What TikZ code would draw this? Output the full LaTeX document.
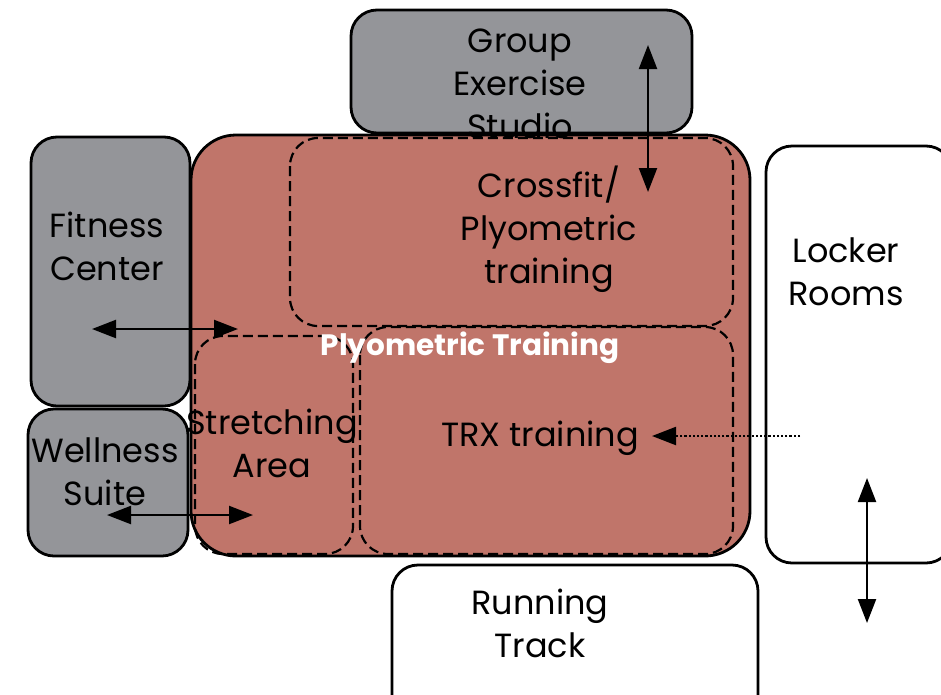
\documentclass[tikz,border=0pt]{standalone}
\usepackage{fontspec}
\setmainfont{Poppins}
\usetikzlibrary{arrows.meta}

\definecolor{roomgrey}{RGB}{148,149,153}
\definecolor{plyored}{RGB}{192,117,106}

\tikzset{
  room/.style={line width=2.8pt, rounded corners=26pt},
  zone/.style={line width=2.2pt, dash pattern=on 10pt off 5pt, rounded corners=28pt},
  roomtext/.style={align=center, inner sep=0pt, font=\fontsize{33.5}{43}\selectfont},
  twoway/.style={line width=2.2pt, {Triangle[length=24pt,width=18pt]}-{Triangle[length=24pt,width=18pt]}},
}

\begin{document}
\begin{tikzpicture}[x=1pt, y=-1pt]
    \useasboundingbox (0,0) rectangle (941,694);
    % Rooms around the training area
    \draw[room, fill=roomgrey] (351,10) rectangle (692,133);
    \draw[room, fill=roomgrey] (31,137) rectangle (190,406);
    \draw[room, fill=roomgrey] (28,409) rectangle (188,556);
    \draw[room] (766,146) rectangle (952,563);
    \draw[room] (392,565) rectangle (758,725);
    % Plyometric training area and its zones
    \draw[room, rounded corners=45pt, fill=plyored] (191,135) rectangle (750,556);
    \draw[zone] (290,138) rectangle (733,326);
    \draw[zone] (195,336) rectangle (353,554);
    \draw[zone] (360,327) rectangle (733,554);
    % Texts
    \node[roomtext] (group) at (520,84) {Group\\Exercise\\Studio};
    \node[roomtext] (fitness) at (107,246) {Fitness\\Center};
    \node[roomtext] (wellness) at (105,472) {Wellness\\Suite};
    \node[roomtext] (crossfit) at (549,229) {Crossfit/\\Plyometric\\training};
    \node[roomtext] (stretch) at (272,443) {Stretching\\Area};
    \node[roomtext] (trx) at (540,438) {TRX training};
    \node[roomtext] (locker) at (846,272) {Locker\\Rooms};
    \node[roomtext] (track) at (540,623) {Running\\Track};
    \node[inner sep=0pt, text=white, font=\fontsize{29.5}{32}\selectfont\bfseries] (plyo) at (470,348) {Plyometric Training};
    % Arrows
    \coordinate (gtop) at (648,45);   \coordinate (gbot) at (648,192);
    \coordinate (fleft) at (92,329);  \coordinate (fright) at (238,329);
    \coordinate (wleft) at (107,515); \coordinate (wright) at (253,515);
    \coordinate (ltop) at (867,478);  \coordinate (lbot) at (867,623);
    \coordinate (lfrom) at (800,436); \coordinate (lto) at (652,436);
    \draw[twoway] (gtop) -- (gbot);
    \draw[twoway] (fleft) -- (fright);
    \draw[twoway] (wleft) -- (wright);
    \draw[twoway] (ltop) -- (lbot);
    \draw[line width=2.2pt, dotted, -{Triangle[length=24pt,width=18pt]}] (lfrom) -- (lto);
\end{tikzpicture}
\end{document}
